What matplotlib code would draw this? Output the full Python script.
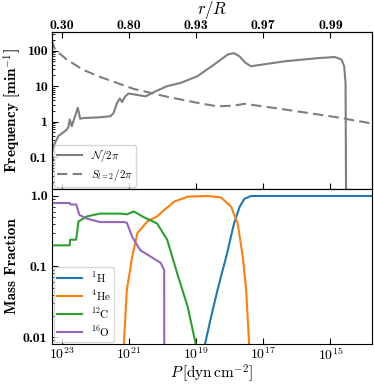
import numpy as np
import matplotlib
matplotlib.use("Agg")
import matplotlib.pyplot as plt
from matplotlib.ticker import FixedLocator, FixedFormatter, NullLocator

plt.rcParams['font.family'] = 'serif'
plt.rcParams['font.serif'] = ['cmb10']
plt.rcParams['mathtext.fontset'] = 'cm'
plt.rcParams['axes.unicode_minus'] = False
plt.rcParams['axes.formatter.use_mathtext'] = True

# ---- data (log10 P [dyn cm^-2], log10 value) ----
N_logP = [23.30, 23.25, 23.10, 22.85, 22.80, 22.76, 22.70, 22.52, 22.45, 22.36,
          21.86, 21.555, 21.46, 21.35, 21.27, 21.20, 21.11, 21.01, 20.80, 20.50,
          20.26, 19.86, 19.46, 18.96, 18.46, 18.06, 17.87, 17.71, 17.52, 17.36,
          17.16, 16.36, 15.37, 14.87, 14.67, 14.59, 14.55, 14.53]
N_logf = [-0.93, -0.70, -0.41, -0.23, -0.15, 0.06, -0.13, 0.39, 0.08, 0.10,
          0.12, 0.15, 0.23, 0.53, 0.65, 0.55, 0.71, 0.79, 0.76, 0.71,
          0.83, 1.00, 1.09, 1.28, 1.61, 1.89, 1.93, 1.84, 1.65, 1.56,
          1.59, 1.70, 1.79, 1.82, 1.75, 1.56, 1.09, -3.0]

S_logP = [23.30, 23.20, 22.85, 22.36, 21.86, 20.85, 19.86, 18.86, 18.36, 17.87,
          17.56, 16.86, 15.86, 14.87, 13.73]
S_logf = [2.31, 2.03, 1.75, 1.46, 1.26, 0.92, 0.70, 0.51, 0.43, 0.45,
          0.50, 0.41, 0.27, 0.13, -0.06]

H_logP = [18.80, 18.78, 18.57, 18.36, 18.08, 17.87, 17.70, 17.56, 17.36, 13.70]
H_logX = [-5.0, -2.2, -1.75, -1.33, -0.82, -0.39, -0.15, -0.04, 0.0, 0.0]

He_logP = [21.16, 21.15, 21.06, 20.90, 20.75, 20.45, 20.16, 19.95, 19.65, 19.25,
           18.66, 18.26, 17.96, 17.76, 17.61, 17.51, 17.42, 17.40]
He_logX = [-5.0, -2.1, -1.33, -0.86, -0.53, -0.36, -0.29, -0.20, -0.08, -0.01,
           0.0, -0.02, -0.15, -0.39, -0.86, -1.33, -2.1, -5.0]

C_logP = [23.30, 22.76, 22.75, 22.57, 22.50, 22.25, 21.86, 21.25, 21.06, 20.85,
          20.56, 20.16, 19.86, 19.56, 19.25, 19.01, 18.99]
C_logX = [-0.70, -0.70, -0.62, -0.62, -0.36, -0.29, -0.25, -0.25, -0.26, -0.22,
          -0.30, -0.39, -0.62, -1.10, -1.57, -2.1, -5.0]

O_logP = [23.30, 22.76, 22.74, 22.57, 22.47, 22.25, 21.86, 21.15, 21.06, 20.90,
          20.66, 20.35, 20.05, 19.95, 19.94]
O_logX = [-0.10, -0.10, -0.12, -0.12, -0.27, -0.32, -0.37, -0.37, -0.38, -0.58,
          -0.77, -0.86, -0.95, -1.05, -5.0]

x_ticks_logP = [23, 21, 19, 17, 15]
top_tick_labels = ['0.30', '0.80', '0.93', '0.97', '0.99']

P = lambda a: 10.0 ** np.asarray(a)

fig = plt.figure(figsize=(3.74, 3.84), dpi=100)
ax1 = fig.add_axes([0.138, 0.508, 0.856, 0.409])
ax2 = fig.add_axes([0.138, 0.104, 0.856, 0.404], sharex=ax1)

leg_font = {'family': 'cmr10', 'size': 8}

gray = '#7f7f7f'
ax1.plot(P(N_logP), P(N_logf), color=gray, lw=1.5, label=r'$\mathcal{N}/2\pi$')
ax1.plot(P(S_logP), P(S_logf), color=gray, lw=1.5, ls=(0, (5, 2.5)), label=r'$S_{l=2}/2\pi$')
ax1.set_xscale('log')
ax1.set_yscale('log')
ax1.set_xlim(10 ** 23.3, 10 ** 13.77)
ax1.set_ylim(10 ** -1.9, 10 ** 2.53)
ax1.yaxis.set_major_locator(FixedLocator([0.1, 1, 10, 100]))
ax1.yaxis.set_major_formatter(FixedFormatter(['0.1', '1', '10', '100']))
ax1.set_ylabel(r'Frequency [min$^{\mathbf{-1}}$]', fontsize=11, labelpad=3)
ax1.tick_params(axis='x', which='both', labelbottom=False)
ax1.legend(loc='lower left', prop=leg_font, handlelength=2.2, borderpad=0.3,
           labelspacing=0.3, borderaxespad=0.2)

top = ax1.twiny()
top.set_xscale('log')
top.set_xlim(ax1.get_xlim())
top.xaxis.set_major_locator(FixedLocator(P(x_ticks_logP)))
top.xaxis.set_major_formatter(FixedFormatter(top_tick_labels))
top.xaxis.set_minor_locator(NullLocator())
top.set_xlabel(r'$r/R$', fontsize=12, labelpad=4)
top.tick_params(direction='in', length=4, labelsize=10, pad=0)

ax2.plot(P(H_logP), P(H_logX), color='#1f77b4', lw=1.5, label=r'$^{1}$H')
ax2.plot(P(He_logP), P(He_logX), color='#ff7f0e', lw=1.5, label=r'$^{4}$He')
ax2.plot(P(C_logP), P(C_logX), color='#2ca02c', lw=1.5, label=r'$^{12}$C')
ax2.plot(P(O_logP), P(O_logX), color='#9467bd', lw=1.5, label=r'$^{16}$O')
ax2.set_yscale('log')
ax2.set_ylim(10 ** -2.1, 10 ** 0.1)
ax2.yaxis.set_major_locator(FixedLocator([0.01, 0.1, 1.0]))
ax2.yaxis.set_major_formatter(FixedFormatter(['0.01', '0.1', '1.0']))
ax2.xaxis.set_major_locator(FixedLocator(P(x_ticks_logP)))
ax2.xaxis.set_major_formatter(FixedFormatter([r'$\mathbf{10}^{\mathbf{%d}}$' % v for v in x_ticks_logP]))
ax2.xaxis.set_minor_locator(NullLocator())
ax2.set_xlabel(r'$P\,[\mathrm{dyn\,cm^{-2}}]$', fontsize=11, labelpad=-1)
ax2.set_ylabel('Mass Fraction', fontsize=11, labelpad=3)
ax2.legend(loc='lower left', prop=leg_font, handlelength=2.2, borderpad=0.3,
           labelspacing=0.3, borderaxespad=0.2)

for ax in (ax1, ax2):
    ax.tick_params(which='major', direction='in', length=4, labelsize=10, pad=3)
    ax.tick_params(which='minor', direction='in', length=2)
    ax.tick_params(axis='x', which='major', top=False)
ax1.tick_params(axis='x', which='major', bottom=True, length=4)
ax2.tick_params(axis='x', which='major', pad=2)

fig.savefig('out.png', dpi=100)
